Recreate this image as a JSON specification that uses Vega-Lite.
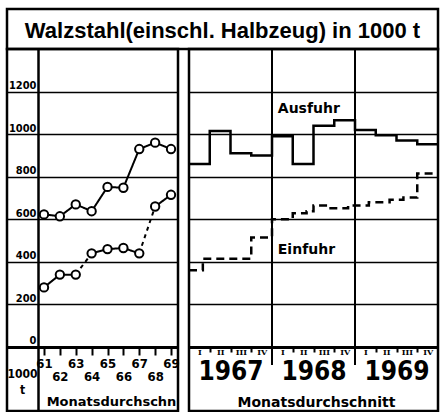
{
  "$schema": "https://vega.github.io/schema/vega-lite/v6.json",
  "padding": {"left": 5, "top": 7, "right": 0, "bottom": 0},
  "background": "white",
  "config": {
    "view": {"stroke": "black", "strokeWidth": 2.5},
    "font": "DejaVu Sans",
    "axis": {"labelColor": "black", "titleColor": "black", "tickColor": "black", "domainColor": "black", "gridColor": "black", "gridOpacity": 1}
  },
  "datasets": {
    "titleText": [{"t": "Walzstahl(einschl. Halbzeug) in 1000 t"}],
    "annual": [
      {"year": 61, "series": "Ausfuhr", "value": 623},
      {"year": 62, "series": "Ausfuhr", "value": 614},
      {"year": 63, "series": "Ausfuhr", "value": 670},
      {"year": 64, "series": "Ausfuhr", "value": 638},
      {"year": 65, "series": "Ausfuhr", "value": 752},
      {"year": 66, "series": "Ausfuhr", "value": 748},
      {"year": 67, "series": "Ausfuhr", "value": 930},
      {"year": 68, "series": "Ausfuhr", "value": 960},
      {"year": 69, "series": "Ausfuhr", "value": 930},
      {"year": 61, "series": "Einfuhr", "value": 280},
      {"year": 62, "series": "Einfuhr", "value": 340},
      {"year": 63, "series": "Einfuhr", "value": 340},
      {"year": 64, "series": "Einfuhr", "value": 440},
      {"year": 65, "series": "Einfuhr", "value": 460},
      {"year": 66, "series": "Einfuhr", "value": 465},
      {"year": 67, "series": "Einfuhr", "value": 440},
      {"year": 68, "series": "Einfuhr", "value": 660},
      {"year": 69, "series": "Einfuhr", "value": 715}
    ],
    "annualLines": [
      {"seg": "A", "style": "solid", "year": 61, "value": 623},
      {"seg": "A", "style": "solid", "year": 62, "value": 614},
      {"seg": "A", "style": "solid", "year": 63, "value": 670},
      {"seg": "A", "style": "solid", "year": 64, "value": 638},
      {"seg": "A", "style": "solid", "year": 65, "value": 752},
      {"seg": "A", "style": "solid", "year": 66, "value": 748},
      {"seg": "A", "style": "solid", "year": 67, "value": 930},
      {"seg": "A", "style": "solid", "year": 68, "value": 960},
      {"seg": "A", "style": "solid", "year": 69, "value": 930},
      {"seg": "E1", "style": "solid", "year": 61, "value": 280},
      {"seg": "E1", "style": "solid", "year": 62, "value": 340},
      {"seg": "E1", "style": "solid", "year": 63, "value": 340},
      {"seg": "E2", "style": "dashed", "year": 63, "value": 340},
      {"seg": "E2", "style": "dashed", "year": 64, "value": 440},
      {"seg": "E3", "style": "solid", "year": 64, "value": 440},
      {"seg": "E3", "style": "solid", "year": 65, "value": 460},
      {"seg": "E3", "style": "solid", "year": 66, "value": 465},
      {"seg": "E3", "style": "solid", "year": 67, "value": 440},
      {"seg": "E4", "style": "dashed", "year": 67, "value": 440},
      {"seg": "E4", "style": "dashed", "year": 68, "value": 660},
      {"seg": "E5", "style": "solid", "year": 68, "value": 660},
      {"seg": "E5", "style": "solid", "year": 69, "value": 715}
    ],
    "periodic": [
      {"series": "Ausfuhr", "t": 1967.0, "value": 860},
      {"series": "Ausfuhr", "t": 1967.25, "value": 1015},
      {"series": "Ausfuhr", "t": 1967.5, "value": 910},
      {"series": "Ausfuhr", "t": 1967.75, "value": 900},
      {"series": "Ausfuhr", "t": 1968.0, "value": 990},
      {"series": "Ausfuhr", "t": 1968.25, "value": 860},
      {"series": "Ausfuhr", "t": 1968.5, "value": 1040},
      {"series": "Ausfuhr", "t": 1968.75, "value": 1065},
      {"series": "Ausfuhr", "t": 1969.0, "value": 1020},
      {"series": "Ausfuhr", "t": 1969.25, "value": 995},
      {"series": "Ausfuhr", "t": 1969.5, "value": 970},
      {"series": "Ausfuhr", "t": 1969.75, "value": 952},
      {"series": "Ausfuhr", "t": 1970.0, "value": 952},
      {"series": "Einfuhr", "t": 1967.0, "value": 360},
      {"series": "Einfuhr", "t": 1967.1667, "value": 415},
      {"series": "Einfuhr", "t": 1967.75, "value": 515},
      {"series": "Einfuhr", "t": 1968.0, "value": 600},
      {"series": "Einfuhr", "t": 1968.25, "value": 628},
      {"series": "Einfuhr", "t": 1968.4167, "value": 638},
      {"series": "Einfuhr", "t": 1968.5, "value": 665},
      {"series": "Einfuhr", "t": 1968.6667, "value": 652},
      {"series": "Einfuhr", "t": 1968.9167, "value": 665},
      {"series": "Einfuhr", "t": 1969.1667, "value": 680},
      {"series": "Einfuhr", "t": 1969.4167, "value": 692},
      {"series": "Einfuhr", "t": 1969.5833, "value": 702},
      {"series": "Einfuhr", "t": 1969.75, "value": 815},
      {"series": "Einfuhr", "t": 1970.0, "value": 815}
    ],
    "seriesLabels": [
      {"x": 1968.07, "y": 1118, "text": "Ausfuhr"},
      {"x": 1968.07, "y": 456, "text": "Einfuhr"}
    ],
    "yearRules": [{"x": 1968}, {"x": 1969}]
  },
  "spacing": 0,
  "bounds": "flush",
  "vconcat": [
    {
      "width": 431,
      "height": 40,
      "data": {"name": "titleText"},
      "mark": {"type": "text", "fontSize": 22, "fontWeight": "bold", "font": "Liberation Sans", "baseline": "middle", "align": "center", "dy": 2, "color": "black"},
      "encoding": {
        "x": {"datum": 0.5, "type": "quantitative", "scale": {"domain": [0, 1]}, "axis": null},
        "y": {"datum": 0.5, "type": "quantitative", "scale": {"domain": [0, 1]}, "axis": null},
        "text": {"field": "t", "type": "nominal"}
      }
    },
    {
      "spacing": 11,
      "bounds": "flush",
      "hconcat": [
        {
          "width": 171,
          "height": 362,
          "resolve": {"axis": {"x": "independent"}},
          "layer": [
            {
              "data": {"name": "annualLines"},
              "mark": {"type": "line", "color": "black", "strokeWidth": 2},
              "encoding": {
                "x": {
                  "field": "year", "type": "quantitative",
                  "scale": {"domain": [58.67, 69.44], "nice": false, "zero": false},
                  "axis": {
                    "orient": "bottom", "offset": -64, "values": [61, 62, 63, 64, 65, 66, 67, 68, 69], "format": "d",
                    "labelExpr": "datum.value % 2 == 1 ? datum.label : ''",
                    "domain": false, "grid": false, "ticks": true, "tickSize": 8, "tickWidth": 2,
                    "labelPadding": 2,
                    "labelFontSize": 13, "labelFontWeight": "bold",
                    "labelFont": "DejaVu Sans Condensed, DejaVu Sans, sans-serif",
                    "labelFlush": false, "labelOverlap": false,
                    "title": "Monatsdurchschn", "titleFontSize": 13, "titleFontWeight": "bold",
                    "titleX": 104, "titleY": 58, "titleAlign": "center", "titleBaseline": "alphabetic"
                  }
                },
                "y": {
                  "field": "value", "type": "quantitative",
                  "scale": {"domain": [-300.7, 1400], "nice": false, "zero": false},
                  "axis": {
                    "orient": "left", "offset": -31, "values": [0, 200, 400, 600, 800, 1000, 1200], "format": "d",
                    "grid": true, "gridWidth": {"condition": {"test": "datum.value == 0", "value": 3}, "value": 1.5},
                    "ticks": false, "domain": true, "domainWidth": 2.5,
                    "labelAlign": "right", "labelBaseline": "alphabetic", "labelOffset": -3, "labelPadding": 2,
                    "labelFontSize": 11, "labelFontWeight": "bold",
                    "labelFont": "DejaVu Sans Condensed, DejaVu Sans, sans-serif",
                    "title": ["1000", "t"], "titleAngle": 0, "titleX": -16, "titleY": 328,
                    "titleAlign": "center", "titleBaseline": "alphabetic", "titleFontSize": 12, "titleLineHeight": 16,
                    "titleFont": "DejaVu Sans Condensed, DejaVu Sans, sans-serif", "titleFontWeight": "bold"
                  }
                },
                "detail": {"field": "seg", "type": "nominal"},
                "strokeDash": {"field": "style", "type": "nominal", "scale": {"domain": ["solid", "dashed"], "range": [[1, 0], [4, 4]]}, "legend": null}
              }
            },
            {
              "data": {"name": "annual"},
              "mark": {"type": "point", "shape": "circle", "filled": true, "fill": "white", "stroke": "black", "strokeWidth": 2, "size": 70, "opacity": 1},
              "encoding": {
                "x": {
                  "field": "year", "type": "quantitative",
                  "axis": {
                    "orient": "bottom", "offset": -64, "values": [62, 64, 66, 68], "format": "d",
                    "domain": false, "grid": false, "ticks": false, "tickSize": 0,
                    "labelPadding": 23,
                    "labelFontSize": 13, "labelFontWeight": "bold",
                    "labelFont": "DejaVu Sans Condensed, DejaVu Sans, sans-serif",
                    "labelFlush": false, "labelOverlap": false, "title": null
                  }
                },
                "y": {"field": "value", "type": "quantitative"}
              }
            }
          ]
        },
        {
          "width": 249,
          "height": 362,
          "resolve": {"axis": {"x": "independent"}},
          "layer": [
            {
              "data": {"name": "yearRules"},
              "mark": {"type": "rule", "color": "black", "strokeWidth": 2},
              "encoding": {
                "x": {
                  "field": "x", "type": "quantitative",
                  "scale": {"domain": [1967, 1970], "nice": false, "zero": false},
                  "axis": {
                    "orient": "bottom", "offset": -64,
                    "values": [1967.25, 1967.5, 1967.75, 1968.25, 1968.5, 1968.75, 1969.25, 1969.5, 1969.75],
                    "ticks": true, "tickSize": 5, "tickWidth": 2, "labels": false, "domain": false, "grid": false, "title": null
                  }
                },
                "y": {
                  "datum": -85, "type": "quantitative",
                  "scale": {"domain": [-300.7, 1400], "nice": false, "zero": false},
                  "axis": {
                    "orient": "left", "values": [0, 200, 400, 600, 800, 1000, 1200],
                    "grid": true, "gridWidth": {"condition": {"test": "datum.value == 0", "value": 3}, "value": 1.5},
                    "labels": false, "ticks": false, "domain": false, "title": null
                  }
                },
                "y2": {"datum": 1400}
              }
            },
            {
              "data": {"name": "periodic"},
              "transform": [{"filter": "datum.series == 'Ausfuhr'"}],
              "mark": {"type": "line", "interpolate": "step-after", "color": "black", "strokeWidth": 2.5},
              "encoding": {
                "x": {
                  "field": "t", "type": "quantitative",
                  "axis": {
                    "orient": "bottom", "offset": -64,
                    "values": [1967.125, 1967.375, 1967.625, 1967.875, 1968.125, 1968.375, 1968.625, 1968.875, 1969.125, 1969.375, 1969.625, 1969.875],
                    "labelExpr": "['I','II','III','IV'][floor((datum.value - floor(datum.value)) * 4)]",
                    "ticks": false, "tickSize": 0, "labelPadding": 1, "domain": false, "grid": false, "title": null,
                    "labelFont": "DejaVu Serif", "labelFontWeight": "bold", "labelFontSize": 8,
                    "labelFlush": false, "labelOverlap": false
                  }
                },
                "y": {"field": "value", "type": "quantitative"}
              }
            },
            {
              "data": {"name": "periodic"},
              "transform": [{"filter": "datum.series == 'Einfuhr'"}],
              "mark": {"type": "line", "interpolate": "step-after", "color": "black", "strokeWidth": 2.5, "strokeDash": [8, 5]},
              "encoding": {
                "x": {
                  "field": "t", "type": "quantitative",
                  "axis": {
                    "orient": "bottom", "offset": -64,
                    "values": [1967.5, 1968.5, 1969.5],
                    "labelExpr": "'' + floor(datum.value)",
                    "ticks": false, "tickSize": 0, "labelPadding": 11, "domain": false, "grid": false,
                    "labelFont": "DejaVu Sans Condensed, DejaVu Sans, sans-serif",
                    "labelFontWeight": "bold", "labelFontSize": 26,
                    "labelFlush": false, "labelOverlap": false,
                    "title": "Monatsdurchschnitt", "titleFontSize": 14, "titleFontWeight": "bold",
                    "titleX": 127, "titleY": 59, "titleAlign": "center", "titleBaseline": "alphabetic"
                  }
                },
                "y": {"field": "value", "type": "quantitative"}
              }
            },
            {
              "data": {"name": "seriesLabels"},
              "mark": {"type": "text", "align": "left", "baseline": "middle", "fontSize": 14, "fontWeight": "bold", "color": "black"},
              "encoding": {
                "x": {"field": "x", "type": "quantitative", "axis": null},
                "y": {"field": "y", "type": "quantitative"},
                "text": {"field": "text", "type": "nominal"}
              }
            }
          ]
        }
      ]
    }
  ]
}
